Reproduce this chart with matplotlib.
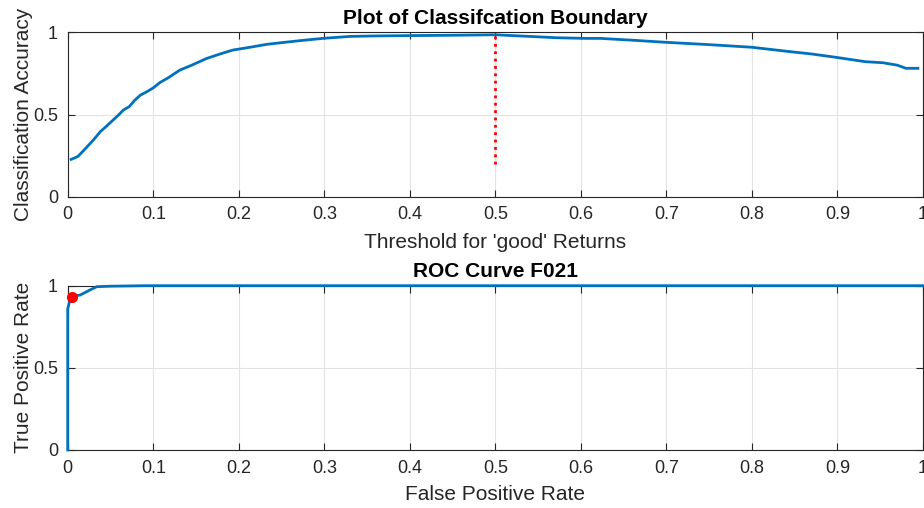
import matplotlib
matplotlib.use("Agg")
import matplotlib.pyplot as plt

plt.rcParams['font.family'] = ['Liberation Sans', 'DejaVu Sans']

# Classification accuracy against the threshold for a 'good' return
threshold = [0.004, 0.012, 0.022, 0.030, 0.038, 0.046, 0.053, 0.060, 0.065, 0.072,
             0.078, 0.085, 0.093, 0.100, 0.108, 0.118, 0.131, 0.145, 0.162, 0.178,
             0.193, 0.212, 0.233, 0.250, 0.271, 0.298, 0.330, 0.360, 0.400, 0.450,
             0.500, 0.548, 0.571, 0.606, 0.623, 0.660, 0.700, 0.750, 0.800, 0.840,
             0.870, 0.898, 0.933, 0.953, 0.970, 0.980, 0.994]
accuracy = [0.227, 0.245, 0.300, 0.345, 0.395, 0.432, 0.466, 0.500, 0.527, 0.548,
            0.585, 0.618, 0.640, 0.662, 0.695, 0.725, 0.770, 0.800, 0.840, 0.868,
            0.892, 0.908, 0.927, 0.937, 0.949, 0.963, 0.975, 0.978, 0.980, 0.982,
            0.985, 0.973, 0.967, 0.963, 0.963, 0.952, 0.939, 0.925, 0.909, 0.885,
            0.868, 0.848, 0.821, 0.815, 0.800, 0.781, 0.781]
boundary_x = 0.5
boundary_bottom = 0.2
boundary_top = 0.985

# ROC curve
fpr = [0.0, 0.0, 0.0, 0.002, 0.004, 0.008, 0.0145, 0.020, 0.026, 0.034, 0.050, 0.090, 1.0]
tpr = [0.0, 0.79, 0.86, 0.90, 0.925, 0.938, 0.943, 0.958, 0.974, 0.994, 0.997, 1.0, 1.0]
op_fpr = [0.005]
op_tpr = [0.93]

BLUE = '#0072BD'
AXC = '#262626'
FS = 13
LFS = 15

fig = plt.figure(figsize=(9.24, 5.08), dpi=100)
ax1 = fig.add_axes([0.0733, 0.6128, 0.9256, 0.3236])
ax2 = fig.add_axes([0.0733, 0.1142, 0.9256, 0.3234])


def style(ax):
    ax.set_xlim(0, 1)
    ax.set_ylim(0, 1)
    ax.set_xticks([i / 10 for i in range(11)])
    ax.set_xticklabels(['0'] + ['%.1f' % (i / 10) for i in range(1, 10)] + ['1'])
    ax.set_yticks([0, 0.5, 1])
    ax.set_yticklabels(['0', '0.5', '1'])
    ax.grid(True, color='#e3e3e3', linewidth=0.8)
    ax.set_axisbelow(True)
    ax.tick_params(direction='in', length=5, width=0.8, colors=AXC,
                   labelsize=FS, top=True, right=True, pad=7)
    for s in ax.spines.values():
        s.set_color(AXC)
        s.set_linewidth(0.8)


ax1.plot(threshold, accuracy, color=BLUE, linewidth=2.0, clip_on=False, zorder=3)
ax1.plot([boundary_x, boundary_x], [boundary_bottom, boundary_top], color='red',
         linestyle=':', linewidth=2.0, zorder=4)
style(ax1)
ax1.set_title('Plot of Classifcation Boundary', fontsize=LFS, fontweight='bold', pad=6)
ax1.set_xlabel("Threshold for 'good' Returns", fontsize=LFS, color=AXC, labelpad=7)
ax1.set_ylabel('Classification Accuracy', fontsize=LFS, color=AXC, labelpad=0)

ax2.plot(fpr, tpr, color=BLUE, linewidth=2.0, clip_on=False, zorder=3)
ax2.plot(op_fpr, op_tpr, 'o', color='red', markersize=7, clip_on=False, zorder=4)
style(ax2)
ax2.set_title('ROC Curve F021', fontsize=LFS, fontweight='bold', pad=6)
ax2.set_xlabel('False Positive Rate', fontsize=LFS, color=AXC, labelpad=6)
ax2.set_ylabel('True Positive Rate', fontsize=LFS, color=AXC, labelpad=0)

fig.savefig('out.png', dpi=100)
